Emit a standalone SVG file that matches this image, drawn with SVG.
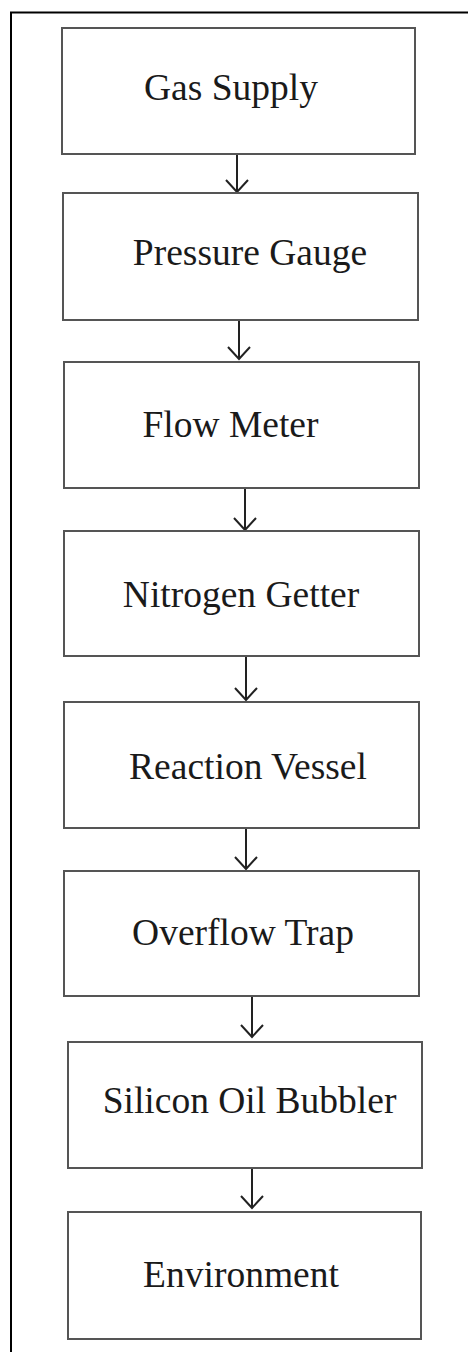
<svg xmlns="http://www.w3.org/2000/svg" width="468" height="1352" viewBox="0 0 468 1352">
  <style>
    .frame { fill: none; stroke: #000; stroke-width: 2; }
    .box { fill: #fff; stroke: #555; stroke-width: 2; }
    .label { font-family: "Liberation Serif", "Times New Roman", serif; font-size: 37.5px; fill: #1a1a1a; text-anchor: middle; }
    .flow { fill: none; stroke: #222; stroke-width: 2; marker-end: url(#head); }
  </style>
  <defs>
    <!-- open V arrowhead -->
    <marker id="head" markerUnits="userSpaceOnUse" markerWidth="30" markerHeight="30" refX="0" refY="0" orient="auto" overflow="visible">
      <path d="M-12,-11 L0,0 L-12,11" fill="none" stroke="#222" stroke-width="2"/>
    </marker>
  </defs>

  <rect width="468" height="1352" fill="#fff"/>

  <!-- page frame: top and left rules only -->
  <path class="frame" d="M11,1352 V12.5 H468"/>

  <g id="connectors">
    <path class="flow" d="M237,154 V192"/>
    <path class="flow" d="M239,320 V359"/>
    <path class="flow" d="M245,488 V530"/>
    <path class="flow" d="M246,656 V700"/>
    <path class="flow" d="M246,828 V869"/>
    <path class="flow" d="M252,996 V1037"/>
    <path class="flow" d="M252,1168 V1208"/>
  </g>

  <g id="gas-supply">
    <rect class="box" x="62" y="28" width="353" height="126"/>
    <text class="label" x="231" y="100">Gas Supply</text>
  </g>
  <g id="pressure-gauge">
    <rect class="box" x="63" y="193" width="355" height="127"/>
    <text class="label" x="250" y="265">Pressure Gauge</text>
  </g>
  <g id="flow-meter">
    <rect class="box" x="64" y="362" width="355" height="126"/>
    <text class="label" x="230.5" y="437">Flow Meter</text>
  </g>
  <g id="nitrogen-getter">
    <rect class="box" x="64" y="531" width="355" height="125"/>
    <text class="label" x="241" y="607">Nitrogen Getter</text>
  </g>
  <g id="reaction-vessel">
    <rect class="box" x="64" y="702" width="355" height="126"/>
    <text class="label" x="248" y="779">Reaction Vessel</text>
  </g>
  <g id="overflow-trap">
    <rect class="box" x="64" y="871" width="355" height="125"/>
    <text class="label" x="243" y="945">Overflow Trap</text>
  </g>
  <g id="silicon-oil-bubbler">
    <rect class="box" x="68" y="1042" width="354" height="126"/>
    <text class="label" x="249.5" y="1113">Silicon Oil Bubbler</text>
  </g>
  <g id="environment">
    <rect class="box" x="68" y="1212" width="353" height="127"/>
    <text class="label" x="241" y="1287">Environment</text>
  </g>
</svg>
